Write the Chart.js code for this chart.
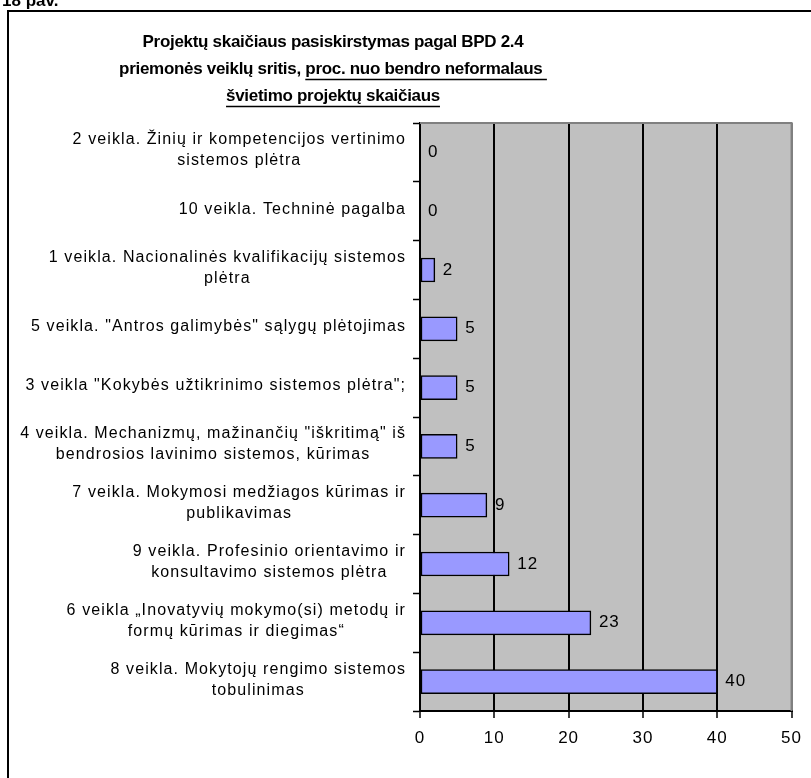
<!DOCTYPE html>
<html><head><meta charset="utf-8">
<script src="https://cdn.jsdelivr.net/npm/chart.js@4"></script>
<style>html,body{margin:0;padding:0;background:#fff;} canvas{display:block;}</style>
</head><body>
<canvas id="c" width="811" height="778"></canvas>
<script>
// ---- data ----
const figureLabel = '18 pav.';
const titleLine1 = 'Projektų skaičiaus pasiskirstymas pagal BPD 2.4';
const titleLine2Plain = 'priemonės veiklų sritis, ';
const titleLine2Underlined = 'proc. nuo bendro neformalaus ';
const titleLine3Underlined = 'švietimo projektų skaičiaus';

const categories = [
  ['2 veikla. Žinių ir kompetencijos vertinimo', 'sistemos plėtra'],
  ['10 veikla. Techninė pagalba'],
  ['1 veikla. Nacionalinės kvalifikacijų sistemos', 'plėtra'],
  ['5 veikla. "Antros galimybės" sąlygų plėtojimas'],
  ['3 veikla "Kokybės užtikrinimo sistemos plėtra";'],
  ['4 veikla. Mechanizmų, mažinančių "iškritimą" iš', 'bendrosios lavinimo sistemos, kūrimas'],
  ['7 veikla. Mokymosi medžiagos kūrimas ir', 'publikavimas'],
  ['9 veikla. Profesinio orientavimo ir', 'konsultavimo sistemos plėtra'],
  ['6 veikla „Inovatyvių mokymo(si) metodų ir', 'formų kūrimas ir diegimas“'],
  ['8 veikla. Mokytojų rengimo sistemos', 'tobulinimas']
];
const values = [0, 0, 2, 5, 5, 5, 9, 12, 23, 40];
const xTicks = [0, 10, 20, 30, 40, 50];

const FONT = 'Arial, "Liberation Sans", sans-serif';

const decor = {
  id: 'decor',
  beforeDraw(chart) {
    const ctx = chart.ctx, a = chart.chartArea;
    ctx.save();
    ctx.fillStyle = '#fff';
    ctx.fillRect(0, 0, chart.width, chart.height);
    // outer frame
    ctx.strokeStyle = '#000'; ctx.lineWidth = 2;
    ctx.strokeRect(8, 11, chart.width + 20, chart.height + 20);
    // figure label (cut off at top)
    ctx.fillStyle = '#000';
    ctx.font = 'bold 17px ' + FONT;
    ctx.textAlign = 'left'; ctx.textBaseline = 'alphabetic';
    ctx.fillText(figureLabel, 2, 6);
    // title
    ctx.font = 'bold 17px ' + FONT;
    ctx.letterSpacing = '-0.3px';
    ctx.textBaseline = 'middle';
    const cx = 333;
    ctx.textAlign = 'center';
    ctx.fillText(titleLine1, cx, 42);
    const w2a = ctx.measureText(titleLine2Plain).width;
    const w2b = ctx.measureText(titleLine2Underlined).width;
    const x2 = cx - (w2a + w2b) / 2;
    ctx.textAlign = 'left';
    ctx.fillText(titleLine2Plain, x2, 69);
    ctx.fillText(titleLine2Underlined, x2 + w2a, 69);
    ctx.lineWidth = 1.5;
    ctx.beginPath(); ctx.moveTo(x2 + w2a, 79.5); ctx.lineTo(x2 + w2a + w2b, 79.5); ctx.stroke();
    const w3 = ctx.measureText(titleLine3Underlined).width;
    ctx.fillText(titleLine3Underlined, cx - w3 / 2, 96);
    ctx.beginPath(); ctx.moveTo(cx - w3 / 2, 106.5); ctx.lineTo(cx + w3 / 2, 106.5); ctx.stroke();
    // plot background
    ctx.fillStyle = '#C0C0C0';
    ctx.fillRect(a.left, a.top, a.right - a.left, a.bottom - a.top);
    ctx.restore();
    ctx.letterSpacing = '1px';
  },
  beforeDatasetsDraw(chart) {
    const ctx = chart.ctx, a = chart.chartArea;
    ctx.save();
    ctx.strokeStyle = '#808080'; ctx.lineWidth = 2;
    ctx.beginPath(); ctx.moveTo(a.left, a.top); ctx.lineTo(a.right, a.top); ctx.lineTo(a.right, a.bottom); ctx.stroke();
    ctx.restore();
  },
  afterDatasetsDraw(chart) {
    const ctx = chart.ctx;
    const xs = chart.scales.x, ys = chart.scales.y;
    ctx.save();
    ctx.letterSpacing = '1px';
    ctx.fillStyle = '#000';
    ctx.font = '17px ' + FONT;
    ctx.textAlign = 'left'; ctx.textBaseline = 'middle';
    values.forEach((v, i) => {
      ctx.fillText(String(v), xs.getPixelForValue(v) + 8, ys.getPixelForValue(i));
    });
    // category labels
    ctx.font = '16px ' + FONT;
    ctx.letterSpacing = '1.1px';
    ctx.textAlign = 'center';
    const lh = 21;
    categories.forEach((lines, i) => {
      const y = ys.getPixelForValue(i) - 2;
      const maxW = Math.max(...lines.map(l => ctx.measureText(l).width));
      const cx = 406 - maxW / 2;
      lines.forEach((l, j) => {
        ctx.fillText(l, cx, y + (j - (lines.length - 1) / 2) * lh);
      });
    });
    ctx.restore();
  }
};

new Chart(document.getElementById('c'), {
  type: 'bar',
  data: {
    labels: categories.map(l => l.join(' ')),
    datasets: [{
      data: values,
      backgroundColor: '#9999FF',
      borderColor: '#000',
      borderWidth: 1.5,
      borderSkipped: false,
      barThickness: 24
    }]
  },
  options: {
    responsive: false,
    animation: false,
    indexAxis: 'y',
    layout: { padding: { top: 123, right: 17, bottom: 0, left: 0 } },
    plugins: { legend: { display: false }, tooltip: { enabled: false }, title: { display: false } },
    scales: {
      x: {
        type: 'linear',
        min: xTicks[0], max: xTicks[xTicks.length - 1],
        afterBuildTicks: s => { s.ticks = xTicks.map(v => ({ value: v })); },
        afterFit: s => { s.height = 67; },
        ticks: { color: '#000', font: { size: 17, family: FONT }, padding: 10 },
        grid: {
          color: c => (c.tick && c.tick.value === 0) ? 'rgba(0,0,0,0)' : (c.tick && c.tick.value === 50 ? '#808080' : '#000'),
          lineWidth: 2,
          tickColor: '#000',
          tickLength: 7,
          tickWidth: 1.5
        },
        border: { color: '#000', width: 2 }
      },
      y: {
        type: 'category',
        offset: true,
        afterFit: s => { s.width = 420; },
        ticks: { display: false },
        grid: { drawOnChartArea: false, offset: true, tickColor: '#000', tickLength: 7, tickWidth: 1.5 },
        border: { color: '#000', width: 2 }
      }
    }
  },
  plugins: [decor]
});
</script>
</body></html>
